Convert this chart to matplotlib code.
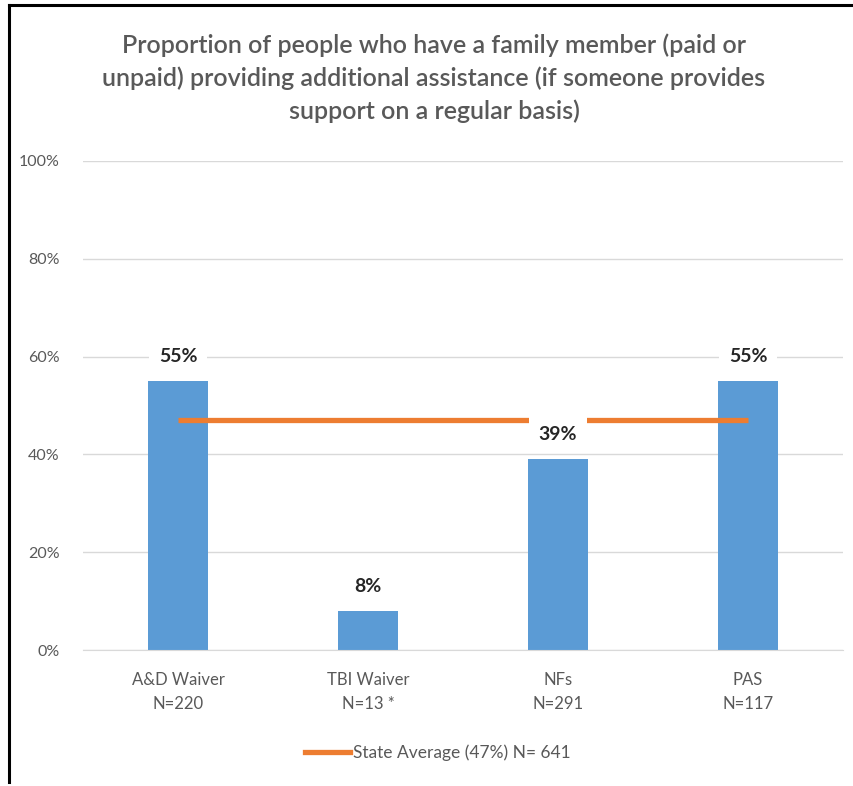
import matplotlib
matplotlib.use("Agg")
import matplotlib.pyplot as plt
from matplotlib.lines import Line2D

# Data
categories = ["A&D Waiver\nN=220", "TBI Waiver\nN=13 *", "NFs\nN=291", "PAS\nN=117"]
values = [0.55, 0.08, 0.39, 0.55]
value_labels = ["55%", "8%", "39%", "55%"]
state_average = 0.47
legend_label = "State Average (47%) N= 641"
yticks = [0, 0.2, 0.4, 0.6, 0.8, 1.0]
ytick_labels = ["0%", "20%", "40%", "60%", "80%", "100%"]
title = ("Proportion of people who have a family member (paid or\n"
         "unpaid) providing additional assistance (if someone provides\n"
         "support on a regular basis)")

BLUE = "#5B9BD5"
ORANGE = "#ED7D31"
GRAY = "#595959"
GRID = "#D9D9D9"

plt.rcParams["font.family"] = ["Lato", "DejaVu Sans"]

W, H = 854, 786
fig = plt.figure(figsize=(W / 100, H / 100), dpi=100)
fig.patch.set_facecolor("white")

ax = fig.add_axes([83 / W, (H - 650) / H, (843 - 83) / W, (650 - 161) / H])
x = list(range(len(categories)))

ax.bar(x, values, width=0.32, color=BLUE, zorder=2)
ax.plot([x[0], x[-1]], [state_average, state_average], color=ORANGE,
        lw=3.8, solid_capstyle="butt", zorder=3)

for xi, v, lab in zip(x, values, value_labels):
    ax.annotate(lab, (xi, v), xytext=(0, 17.5), textcoords="offset points",
                ha="center", va="center", fontsize=14, fontweight="bold",
                color="#262626", zorder=5,
                bbox=dict(boxstyle="square,pad=0.48", fc="white", ec="none"))

ax.set_xlim(-0.5, 3.5)
ax.set_ylim(0, 1.0)
ax.set_yticks(yticks)
ax.set_yticklabels(ytick_labels, fontsize=11.5, color=GRAY)
ax.set_xticks(x)
ax.set_xticklabels(categories, fontsize=12, color=GRAY, linespacing=1.6)
ax.tick_params(axis="both", length=0)
ax.tick_params(axis="y", pad=17)
ax.tick_params(axis="x", pad=16)
ax.yaxis.grid(True, color=GRID, lw=1)
ax.set_axisbelow(True)
for s in ["top", "right", "left"]:
    ax.spines[s].set_visible(False)
ax.spines["bottom"].set_color(GRID)

fig.text(434 / W, 1 - 78.5 / H, title, ha="center", va="center",
         fontsize=18, fontweight="semibold", color=GRAY, linespacing=1.47)

handle = Line2D([], [], color=ORANGE, lw=3.8)
fig.legend([handle], [legend_label], loc="center",
           bbox_to_anchor=(438 / W, 1 - 753 / H), frameon=False,
           fontsize=12.5, labelcolor=GRAY, handlelength=2.6,
           handletextpad=0.2)

# frame lines along the left and top edges
fig.add_artist(Line2D([8.5 / W, 8.5 / W], [1 - 5 / H, 1 - 782 / H],
                      color="black", lw=2.2, transform=fig.transFigure))
fig.add_artist(Line2D([8.5 / W, 1.0], [1 - 5 / H, 1 - 5 / H],
                      color="black", lw=2.2, transform=fig.transFigure))

fig.savefig("out.png", dpi=100, facecolor="white")
